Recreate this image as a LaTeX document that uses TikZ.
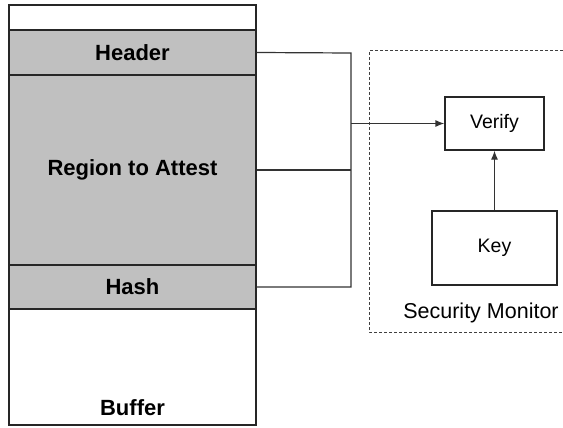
\documentclass[tikz,border=0pt]{standalone}
\usepackage{fontspec}
\setmainfont{Liberation Sans}
\usepackage{xcolor}
\usetikzlibrary{arrows.meta,positioning}
\definecolor{memgray}{HTML}{C0C0C0}

\begin{document}
\begin{tikzpicture}[x=1pt, y=-1pt, line width=1.2pt,
  slot/.style={draw=black!85, minimum width=247pt, inner sep=0pt, font=\bfseries\fontsize{22}{24}\selectfont},
  unit/.style={draw=black!85, inner sep=0pt, font=\fontsize{19.5}{22}\selectfont},
  wire/.style={draw=black!80},
  tip/.style={-{Latex[length=9pt,width=7pt]}}]
\useasboundingbox (0,0) rectangle (563,428);
%%%%% Buffer %%%%%
\node[slot, minimum height=25pt] (pad) at (132.5,17.5) {};
\node[slot, fill=memgray, minimum height=45pt] (header) at (132.5,52.5) {Header};
\node[slot, fill=memgray, minimum height=190pt] (region) at (132.5,170) {Region to Attest};
\node[slot, fill=memgray, minimum height=44pt] (hash) at (132.5,287) {Hash};
\node[slot, minimum height=116pt] (buffer) at (132.5,367) {};
\node[font=\bfseries\fontsize{22}{24}\selectfont] (bufname) at (132.5,408) {Buffer};
%%%%% Security Monitor %%%%%
\draw[black!75, line width=1pt, dash pattern=on 3pt off 2pt] (563,51) -- (369,51) -- (369,332) -- (563,332);
\node[font=\fontsize{21.5}{24}\selectfont] (monitor) at (481,313) {Security Monitor};
\node[unit, minimum width=99pt, minimum height=53pt] (verify) at (494.5,123.5) {Verify};
\node[unit, minimum width=125pt, minimum height=74pt] (key) at (494.5,248) {Key};
%%%%% Wires %%%%%
\coordinate (bustop) at (351,53);
\coordinate (busbot) at (351,287);
\draw[wire] (header.east) -- (bustop) -- (busbot) -- (hash.east);
\draw[wire] (region.east) -- (region.east -| bustop);
\draw[wire, tip] (bustop |- verify.west) -- (verify.west);
\draw[wire, tip] (key.north) -- (verify.south);
\end{tikzpicture}
\end{document}
